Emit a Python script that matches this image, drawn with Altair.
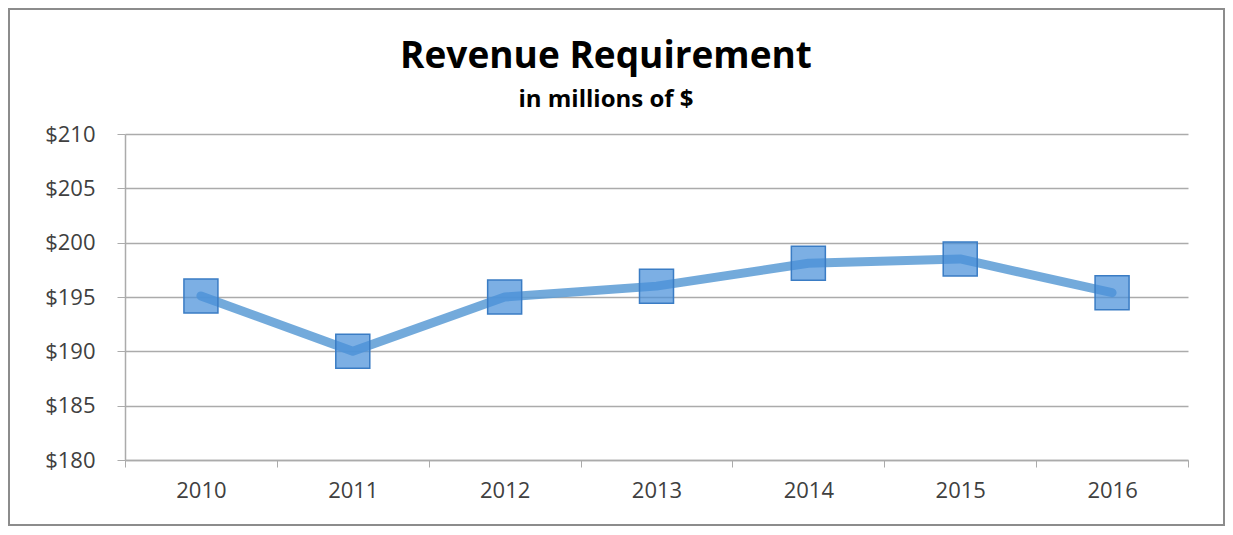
import altair as alt
import pandas as pd

years = ["2010", "2011", "2012", "2013", "2014", "2015", "2016"]
revenue = [195.1, 190.0, 195.0, 196.0, 198.1, 198.5, 195.4]
y_ticks = [180, 185, 190, 195, 200, 205, 210]
title_text = "Revenue Requirement"
subtitle_text = "in millions of $"

df = pd.DataFrame({"year": years, "revenue": revenue})

FONT = "Open Sans"
GRID = "#ABABAB"
LABEL = "#404040"

base = alt.Chart(df).encode(
    x=alt.X(
        "year:N",
        sort=years,
        scale=alt.Scale(paddingInner=0, paddingOuter=0),
        axis=alt.Axis(
            title=None, labelAngle=0, tickBand="extent", ticks=True, tickSize=7,
            labelPadding=13, domainColor=GRID, tickColor=GRID, domainWidth=1.5,
            labelFont=FONT, labelFontSize=22, labelColor=LABEL, grid=False,
        ),
    ),
    y=alt.Y(
        "revenue:Q",
        scale=alt.Scale(domain=[180, 210], nice=False, zero=False),
        axis=alt.Axis(
            values=y_ticks, title=None, labelExpr="'$' + datum.value",
            grid=True, gridColor=GRID, gridWidth=1.5, tickSize=8, tickColor=GRID,
            domainColor=GRID, domainWidth=1.5, labelPadding=22,
            labelFont=FONT, labelFontSize=22, labelColor=LABEL,
        ),
    ),
)

line = base.mark_line(
    strokeWidth=9, color="#5B9BD5", opacity=0.85, strokeCap="round", strokeJoin="round"
)
pts = base.mark_point(
    shape="square", size=1156, filled=True, fill="#4A90D9", fillOpacity=0.72,
    stroke="#3A7CC4", strokeWidth=1.5, opacity=1,
)

frame = alt.Chart(pd.DataFrame({"a": [0]})).mark_rect(
    fill="transparent", stroke="#8C8C8C", strokeWidth=2
).encode(
    x=alt.value(-116), x2=alt.value(1099), y=alt.value(-125), y2=alt.value(391)
)

title = alt.Chart(pd.DataFrame({"t": [title_text]})).mark_text(
    font=FONT, fontSize=37, fontWeight="bold", color="black",
    align="center", baseline="alphabetic",
).encode(text="t:N", x=alt.value(481), y=alt.value(-66))

subtitle = alt.Chart(pd.DataFrame({"t": [subtitle_text]})).mark_text(
    font=FONT, fontSize=24, fontWeight="bold", color="black",
    align="center", baseline="alphabetic",
).encode(text="t:N", x=alt.value(481), y=alt.value(-27))

chart = alt.layer(frame, line, pts, title, subtitle).properties(
    width=1063,
    height=326,
    autosize=alt.AutoSizeParams(type="none"),
    padding={"left": 117, "top": 126, "right": 37, "bottom": 67},
).configure_view(stroke=None)

chart.save("out.html", embed_options={"renderer": "svg", "actions": False})
